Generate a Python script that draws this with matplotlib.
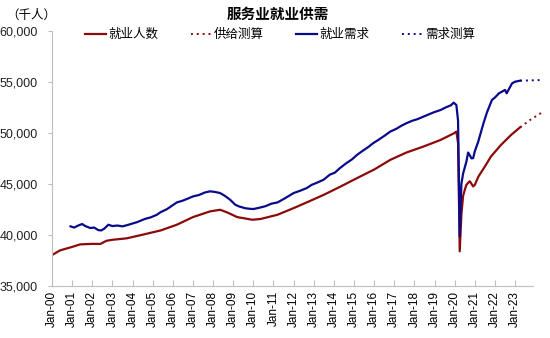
import matplotlib
matplotlib.use("Agg")
import matplotlib.pyplot as plt

plt.rcParams['font.family'] = ['Liberation Sans', 'Noto Sans CJK SC', 'DejaVu Sans']

# 就业人数 (decimal years, thousands)
emp_x = [2000.0, 2000.4, 2001.0, 2001.4, 2002.0, 2002.4, 2002.7, 2003.0, 2003.7,
         2004.5, 2005.4, 2006.2, 2007.0, 2007.85, 2008.35, 2008.7, 2009.2, 2009.95,
         2010.35, 2011.2, 2012.0, 2012.75, 2013.5, 2014.3, 2015.15, 2016.0, 2016.8,
         2017.6, 2018.45, 2019.3, 2019.95, 2020.083, 2020.167, 2020.25, 2020.333,
         2020.417, 2020.5, 2020.583, 2020.667, 2020.75, 2020.833, 2020.917, 2021.0,
         2021.18, 2021.5, 2021.8, 2022.3, 2022.8, 2023.25]
emp_y = [38000, 38460, 38800, 39050, 39100, 39090, 39400, 39500, 39640,
         40000, 40420, 40980, 41730, 42290, 42450, 42190, 41730, 41470,
         41540, 41960, 42610, 43260, 43920, 44700, 45560, 46400, 47350,
         48070, 48660, 49310, 49950, 50130, 49000, 38370, 42000,
         43800, 44400, 44900, 45100, 45250, 45000, 44740, 44900,
         45720, 46700, 47680, 48820, 49800, 50550]

# 供给测算
sup_x = [2023.25, 2023.8, 2024.4]
sup_y = [50550, 51350, 52090]

# 就业需求
dem_x = [2000.92, 2001.1, 2001.3, 2001.5, 2001.65, 2001.9, 2002.1, 2002.3, 2002.45,
         2002.6, 2002.8, 2003.0, 2003.25, 2003.5, 2003.75, 2004.0, 2004.25, 2004.6,
         2004.9, 2005.2, 2005.4, 2005.7, 2006.0, 2006.2, 2006.5, 2006.75, 2007.0,
         2007.3, 2007.6, 2007.85, 2008.1, 2008.35, 2008.6, 2008.85, 2009.1, 2009.3,
         2009.6, 2009.8, 2010.0, 2010.3, 2010.6, 2010.9, 2011.2, 2011.5, 2011.8,
         2012.0, 2012.3, 2012.65, 2012.9, 2013.15, 2013.48, 2013.8, 2014.05, 2014.3,
         2014.6, 2014.9, 2015.15, 2015.4, 2015.7, 2015.95, 2016.2, 2016.5, 2016.8,
         2017.1, 2017.35, 2017.6, 2017.9, 2018.15, 2018.45, 2018.75, 2019.0, 2019.3,
         2019.55, 2019.8, 2019.95, 2020.083, 2020.167, 2020.25, 2020.333, 2020.417,
         2020.5, 2020.583, 2020.667, 2020.75, 2020.833, 2020.917, 2021.0, 2021.17,
         2021.43, 2021.6, 2021.85, 2022.0, 2022.2, 2022.5, 2022.58, 2022.85, 2023.0,
         2023.25]
dem_y = [40820, 40700, 40900, 41050, 40850, 40660, 40700, 40450, 40420,
         40600, 40980, 40850, 40900, 40820, 40950, 41100, 41250, 41540,
         41700, 41950, 42220, 42500, 42900, 43170, 43350, 43550, 43760,
         43900, 44150, 44260, 44200, 44090, 43800, 43430, 42950, 42770,
         42600, 42550, 42520, 42650, 42800, 43050, 43170, 43500, 43850,
         44090, 44300, 44580, 44900, 45100, 45390, 45900, 46100, 46540,
         47000, 47400, 47840, 48200, 48600, 48990, 49300, 49700, 50130,
         50400, 50700, 50950, 51200, 51350, 51600, 51850, 52050, 52250,
         52500, 52700, 52970, 52740, 51200, 39830, 45000, 46000,
         46600, 47200, 48070, 47800, 47500, 47520, 48200, 49150,
         50950, 52000, 53240, 53480, 53890, 54220, 53890, 54870, 55030,
         55130]

# 需求测算
fc_x = [2023.25, 2023.8, 2024.4]
fc_y = [55130, 55160, 55200]

years = list(range(2000, 2024))
year_labels = [f"Jan-{y % 100:02d}" for y in years]

red = "#8b0a0a"
blue = "#0a0a8c"

fig = plt.figure(figsize=(5.5, 3.38), dpi=100)
ax = fig.add_axes([0.0945, 0.155, 0.875, 0.753])

ax.plot(emp_x, emp_y, color=red, lw=1.6, label="就业人数")
ax.plot(sup_x, sup_y, color=red, lw=1.4, ls=(0, (1, 2)), label="供给测算", clip_on=False)
ax.plot(dem_x, dem_y, color=blue, lw=1.6, label="就业需求")
ax.plot(fc_x, fc_y, color=blue, lw=1.4, ls=(0, (1, 2)), label="需求测算", clip_on=False)

ax.set_xlim(2000, 2023.9)
ax.set_ylim(35000, 60000)
ax.set_yticks(range(35000, 60001, 5000))
ax.set_yticklabels([f"{v:,}" for v in range(35000, 60001, 5000)], fontsize=9)
ax.set_xticks(years)
ax.set_xticklabels(year_labels, rotation=90, fontsize=8.5)

for s in ["top", "right"]:
    ax.spines[s].set_visible(False)
for s in ["left", "bottom"]:
    ax.spines[s].set_color("#bfbfbf")
ax.tick_params(axis="y", length=3, pad=7, colors="#222222")
ax.tick_params(axis="y", color="#bfbfbf")
ax.tick_params(axis="x", direction="in", length=4, color="#bfbfbf", pad=4)

fig.text(0.506, 0.955, "服务业就业供需", ha="center", va="center",
         fontsize=10.5, fontweight="bold")
fig.text(0.056, 0.955, "（千人）", ha="center", va="center", fontsize=9)

fig.legend(loc="center", bbox_to_anchor=(0.509, 0.897), ncol=4, frameon=False,
           fontsize=9, handlelength=1.7, columnspacing=2.6, handletextpad=0.15)

fig.savefig("out.png", dpi=100)
